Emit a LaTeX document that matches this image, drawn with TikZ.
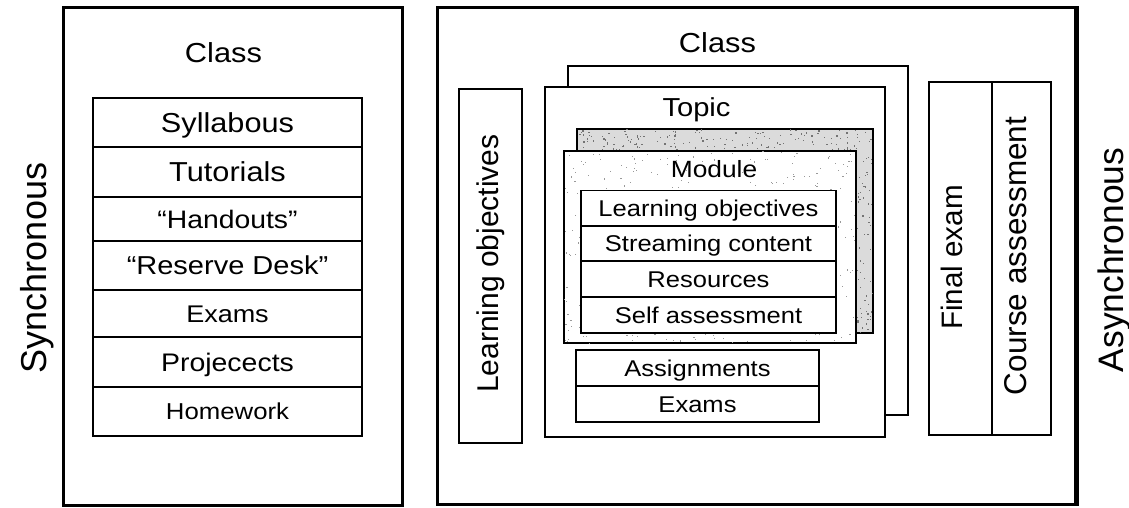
\documentclass[tikz,border=0pt]{standalone}
\usepackage{fontspec}
\setmainfont{Liberation Sans}
\newfontfamily\widesans{Liberation Sans}[FakeStretch=1.12]
\newcommand\fsz[1]{\fontsize{#1bp}{#1bp}\selectfont}
\begin{document}
\begin{tikzpicture}[x=1bp,y=-1bp,
  frame/.style={draw=black,line width=3bp,fill=white},
  panel/.style={draw=black,line width=2bp,fill=white},
  cell/.style={draw=black,line width=1.5bp,fill=white,inner sep=0pt,align=center},
  fs/.style={font=\widesans\fsz{#1},text height={0.716*#1*1bp},text depth=0bp},
  vlabel/.style={rotate=90,anchor=base,inner sep=0pt,font=\fsz{#1}},
  title/.style={anchor=base,inner sep=0pt,font=\widesans\fsz{#1}},
  speck/.style={fill=black!55}
]
\useasboundingbox (0,0) rectangle (1129,508);

% ---- synchronous side ----
\node[frame,minimum width=338bp,minimum height=497bp,inner sep=0pt] (sync) at (233,256.5) {};
\node[title=27.5] (lclass) at (223.5,63) {Class};
\node[cell,minimum width=269bp,minimum height=49bp,fs=27.4] (syl) at (227.5,122.5) {Syllabous};
\node[cell,minimum width=269bp,minimum height=50bp,fs=27.4] (tut) at (227.5,172) {Tutorials};
\node[cell,minimum width=269bp,minimum height=44bp,fs=25.3] (hand) at (227.5,219) {“Handouts”};
\node[cell,minimum width=269bp,minimum height=49bp,fs=25.9] (res) at (227.5,265.5) {“Reserve Desk”};
\node[cell,minimum width=269bp,minimum height=47bp,fs=24.1] (lexam) at (227.5,313.5) {Exams};
\node[cell,minimum width=269bp,minimum height=50bp,fs=25.4] (proj) at (227.5,362) {Projecects};
\node[cell,minimum width=269bp,minimum height=49bp,fs=23] (home) at (227.5,411.5) {Homework};
\node[vlabel=36] (synclabel) at (46,268) {Synchronous};

% ---- asynchronous side ----
\node[frame,minimum width=638bp,minimum height=496bp,inner sep=0pt] (async) at (756,256) {};
\draw[line width=5bp] (async.north east) -- (async.south east);
\node[title=27.5] (rclass) at (717.5,53) {Class};

\node[cell,line width=1.8bp,minimum width=63bp,minimum height=354bp] (lobox) at (490.5,266) {};
\node[vlabel=30] (lolabel) at (498,263.5) {Learning objectives};

% topic stack
\node[panel,line width=2.6bp,minimum width=340bp,minimum height=349bp,inner sep=0pt] (topicback) at (738,240.5) {};
\node[panel,minimum width=340bp,minimum height=350bp,inner sep=0pt] (topic) at (715,262) {};
\node[title=26] (topiclabel) at (696.5,117) {Topic};

% module stack with a speckled fill
\node[draw=black,line width=2bp,fill=black!14,minimum width=296bp,minimum height=204bp,inner sep=0pt] (modback) at (725,231) {};
\begin{scope}
  \clip (modback.north west) rectangle (modback.south east);
  \pgfmathsetseed{11}
  \foreach \i in {1,...,1500} {\fill[speck] ({577+296*rnd},{129+204*rnd}) rectangle ++(1.3,1.3);}
\end{scope}
\node[draw=black,line width=2bp,fill=white,minimum width=292bp,minimum height=192bp,inner sep=0pt] (module) at (710,247) {};
\begin{scope}
  \clip (module.north west) rectangle (module.south east);
  \pgfmathsetseed{5}
  \foreach \i in {1,...,420} {\fill[black!40] ({564+292*rnd},{151+192*rnd}) rectangle ++(1.1,1.1);}
\end{scope}
\node[title=23.5] (modlabel) at (714,178) {Module};
\node[cell,minimum width=255bp,minimum height=35bp,fs=22.8] (mlo) at (708.5,208) {Learning objectives};
\node[cell,minimum width=255bp,minimum height=35bp,fs=22.8] (mstream) at (708.5,243.5) {Streaming content};
\node[cell,minimum width=255bp,minimum height=36bp,fs=22.8] (mres) at (708.5,279) {Resources};
\node[cell,minimum width=255bp,minimum height=36bp,fs=22.8] (mself) at (708.5,315) {Self assessment};

\node[cell,minimum width=243bp,minimum height=36bp,fs=22.8] (assign) at (697.5,368) {Assignments};
\node[cell,minimum width=243bp,minimum height=36bp,fs=22.8] (texam) at (697.5,404) {Exams};

% final exam / course assessment
\node[cell,line width=1.8bp,minimum width=63bp,minimum height=353bp] (finbox) at (960.5,258.5) {};
\node[cell,line width=1.8bp,minimum width=59bp,minimum height=353bp] (coursebox) at (1021.5,258.5) {};
\node[vlabel=29.6] (finlabel) at (962,257.5) {Final exam};
\node[vlabel=31.5] (courselabel) at (1026,256) {Course assessment};

\node[vlabel=35.4] (asynclabel) at (1123,260) {Asynchronous};
\end{tikzpicture}
\end{document}
